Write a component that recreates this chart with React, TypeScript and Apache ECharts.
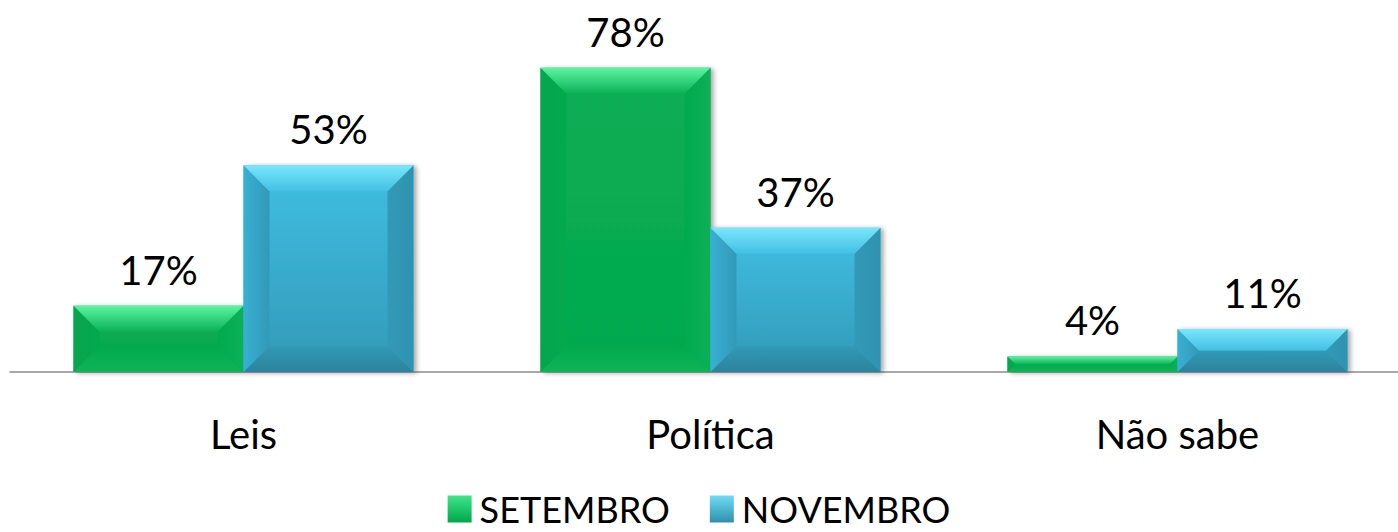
import React, { useEffect, useRef } from "react";
import * as echarts from "echarts";

const categories = ["Leis", "Política", "Não sabe"];
const setembro = [17, 78, 4];
const novembro = [53, 37, 11];
const seriesNames = ["SETEMBRO", "NOVEMBRO"];
const seriesValues = [setembro, novembro];

const FONT = "Lato, 'Open Sans', sans-serif";

const palettes = [
  {
    face0: "#0bad55", face1: "#03a94d", top0: "#5cf5a2", top1: "#0cb057",
    left0: "#07a54e", right0: "#0cb158", bottom1: "#0fb459", base: "#00B050",
    legend0: "#3fe58a", legend1: "#00a84a",
  },
  {
    face0: "#40bfe3", face1: "#3299b7", top0: "#7ae6fb", top1: "#42c0e4",
    left0: "#38b0d4", right0: "#2f93b0", bottom1: "#2c839b", base: "#3CB9DE",
    legend0: "#6fdcf6", legend1: "#2f8fab",
  },
];

function grad(x2: number, y2: number, c0: string, c1: string) {
  return new echarts.graphic.LinearGradient(0, 0, x2, y2, [
    { offset: 0, color: c0 },
    { offset: 1, color: c1 },
  ]);
}

function makeRenderItem(si: number) {
  const p = palettes[si];
  return (params: any, api: any) => {
    const idx = api.value(0);
    const v = api.value(1);
    const top = api.coord([idx, v]);
    const base = api.coord([idx, 0]);
    const band = api.size([1, 0])[0];
    const w = band * 0.364;
    const cx = top[0];
    const x0 = si === 0 ? cx - w : cx;
    const x1 = x0 + w;
    const y1 = top[1];
    const y0 = base[1];
    const h = y0 - y1;
    const b = Math.max(0, Math.min(26, h / 2, w / 2));
    return {
      type: "group",
      children: [
        {
          type: "rect",
          shape: { x: x0, y: y1, width: w, height: h },
          style: {
            fill: grad(0, 1, p.face0, p.face1),
            shadowBlur: 5,
            shadowOffsetX: 3,
            shadowOffsetY: 1,
            shadowColor: "rgba(0,0,0,0.35)",
          },
        },
        {
          type: "polygon",
          shape: { points: [[x0, y0], [x0 + b, y0 - b], [x1 - b, y0 - b], [x1, y0]] },
          style: { fill: grad(0, 1, p.face1, p.bottom1) },
        },
        {
          type: "polygon",
          shape: { points: [[x0, y1], [x0 + b, y1 + b], [x0 + b, y0 - b], [x0, y0]] },
          style: { fill: grad(1, 0, p.left0, p.face1) },
        },
        {
          type: "polygon",
          shape: { points: [[x1, y1], [x1 - b, y1 + b], [x1 - b, y0 - b], [x1, y0]] },
          style: { fill: grad(1, 0, p.face1, p.right0) },
        },
        {
          type: "polygon",
          shape: { points: [[x0, y1], [x1, y1], [x1 - b, y1 + b], [x0 + b, y1 + b]] },
          style: { fill: grad(0, 1, p.top0, p.top1) },
        },
        {
          type: "text",
          x: (x0 + x1) / 2,
          y: y1 - 16,
          style: {
            text: v + "%",
            fontSize: 40,
            fontFamily: FONT,
            fill: "#000",
            align: "center",
            verticalAlign: "bottom",
          },
        },
      ],
    };
  };
}

export default function App() {
  const ref = useRef<HTMLDivElement>(null);
  useEffect(() => {
    if (!ref.current) return;
    const chart = echarts.init(ref.current, undefined, { renderer: "svg" });
    chart.setOption({
      animation: false,
      backgroundColor: "#ffffff",
      grid: { left: 10, width: 1401, top: 21, bottom: 160, containLabel: false, outerBoundsMode: "none" },
      xAxis: {
        type: "category",
        data: categories,
        axisLine: { show: true, lineStyle: { color: "#8c8c8c", width: 1.5 } },
        axisTick: { show: false },
        axisLabel: { fontSize: 40, fontFamily: FONT, color: "#000", margin: 42 },
        splitLine: { show: false },
      },
      yAxis: { type: "value", min: 0, max: 90, show: false, splitLine: { show: false } },
      legend: {
        data: seriesNames.map((name, si) => ({
          name,
          itemStyle: { color: grad(0, 1, palettes[si].legend0, palettes[si].legend1) },
        })),
        left: "center",
        top: 486,
        icon: "rect",
        itemWidth: 24,
        itemHeight: 27,
        itemGap: 40,
        textStyle: {
          fontSize: 36,
          fontFamily: FONT,
          color: "#000",
          padding: [0, 0, 0, 3],
        },
      },
      series: seriesNames.map((name, si) => ({
        type: "custom",
        name,
        data: seriesValues[si].map((v, i) => [i, v]),
        encode: { x: 0, y: 1 },
        itemStyle: { color: palettes[si].base },
        renderItem: makeRenderItem(si),
      })),
    });
    return () => chart.dispose();
  }, []);
  return (
    <div
      ref={ref}
      style={{ position: "fixed", left: 0, top: 0, width: 1398, height: 532 }}
    />
  );
}
